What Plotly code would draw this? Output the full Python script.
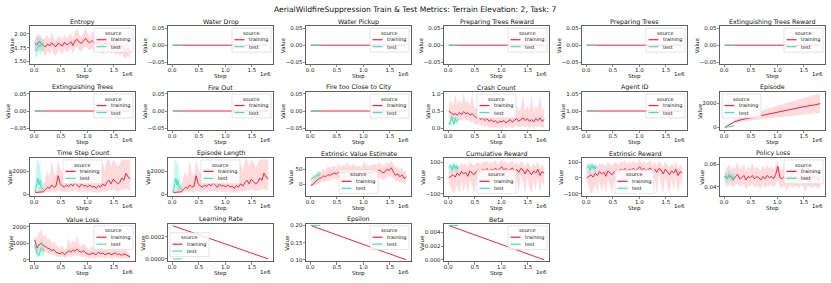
import plotly.graph_objects as go

PAGE_W, PAGE_H = 831, 283
W, H = PAGE_W, PAGE_H
FONT = "DejaVu Sans"
RED = "#ff1f3c"
TEAL = "#3fe3c3"
RED_BAND = "rgba(255,40,60,0.17)"
TEAL_BAND = "rgba(60,225,190,0.28)"

MAIN_TITLE = "AerialWildfireSuppression Train & Test Metrics: Terrain Elevation: 2, Task: 7"

# ---------------- data ----------------
TRAIN_STEP = [10000, 50000, 90000, 130000, 170000, 210000, 250000, 290000, 330000, 370000,
              410000, 450000, 490000, 530000, 570000, 610000, 650000, 690000, 730000, 770000,
              810000, 850000, 890000, 930000, 970000, 1010000, 1050000, 1090000, 1130000, 1170000,
              1210000, 1250000, 1290000, 1330000, 1370000, 1410000, 1450000, 1490000, 1530000, 1570000,
              1610000, 1650000, 1690000, 1730000, 1770000, 1810000]
TEST_STEP = [10000, 30000, 50000, 70000, 90000, 110000, 130000, 150000, 170000, 190000]
FLAT_TRAIN_STEP = [10000, 1810000]
FLAT_TEST_STEP = [10000, 190000]
EPISODE_STEP = [10000, 100000, 200000, 300000, 500000, 700000, 900000, 1100000, 1300000, 1500000, 1700000, 1810000]

ENTROPY_TRAIN = [1.83, 1.80, 1.86, 1.84, 1.80, 1.76, 1.82, 1.78, 1.84, 1.79,
                 1.77, 1.83, 1.81, 1.78, 1.85, 1.80, 1.82, 1.86, 1.79, 1.88,
                 1.90, 1.85, 1.83, 1.88, 1.92, 1.86, 1.84, 1.88, 1.84, 1.80,
                 1.86, 1.82, 1.78, 1.84, 1.80, 1.83, 1.78, 1.82, 1.76, 1.80,
                 1.74, 1.78, 1.72, 1.70, 1.74, 1.68]
ENTROPY_TRAIN_HI = [1.90, 1.95, 2.00, 1.92, 1.88, 1.95, 1.98, 1.90, 2.02, 1.92,
                    1.88, 1.96, 1.94, 1.90, 2.00, 1.92, 1.98, 2.02, 1.92, 2.04,
                    2.08, 1.98, 1.95, 2.02, 2.10, 2.00, 1.96, 2.04, 1.98, 1.94,
                    2.02, 1.96, 1.92, 2.00, 1.94, 1.97, 1.92, 1.98, 1.90, 1.95,
                    1.88, 1.94, 1.86, 1.84, 1.90, 1.82]
ENTROPY_TRAIN_LO = [1.74, 1.65, 1.72, 1.70, 1.66, 1.58, 1.70, 1.62, 1.72, 1.64,
                    1.60, 1.70, 1.68, 1.62, 1.72, 1.66, 1.70, 1.74, 1.64, 1.74,
                    1.76, 1.70, 1.68, 1.74, 1.78, 1.72, 1.70, 1.74, 1.70, 1.66,
                    1.72, 1.68, 1.62, 1.70, 1.66, 1.70, 1.64, 1.68, 1.62, 1.66,
                    1.60, 1.64, 1.58, 1.56, 1.60, 1.55]
ENTROPY_TEST = [1.72, 1.70, 1.74, 1.78, 1.80, 1.76, 1.82, 1.79, 1.78, 1.80]
ENTROPY_TEST_HI = [1.85, 1.95, 2.02, 1.98, 1.92, 2.00, 1.95, 1.90, 1.92, 1.90]
ENTROPY_TEST_LO = [1.62, 1.55, 1.58, 1.62, 1.68, 1.60, 1.66, 1.70, 1.68, 1.70]

WATER_DROP_TRAIN = [0.0, 0.0]
WATER_DROP_TEST = [0.0, 0.0]
WATER_PICKUP_TRAIN = [0.0, 0.0]
WATER_PICKUP_TEST = [0.0, 0.0]
PREP_TREES_REWARD_TRAIN = [0.0, 0.0]
PREP_TREES_REWARD_TEST = [0.0, 0.0]
PREP_TREES_TRAIN = [0.0, 0.0]
PREP_TREES_TEST = [0.0, 0.0]
EXT_TREES_REWARD_TRAIN = [0.0, 0.0]
EXT_TREES_REWARD_TEST = [0.0, 0.0]
EXT_TREES_TRAIN = [0.0, 0.0]
EXT_TREES_TEST = [0.0, 0.0]
FIRE_OUT_TRAIN = [0.0, 0.0]
FIRE_OUT_TEST = [0.0, 0.0]
FIRE_CITY_TRAIN = [0.0, 0.0]
FIRE_CITY_TEST = [0.0, 0.0]
AGENT_ID_TRAIN = [1.0, 1.0]
AGENT_ID_TEST = [1.0, 1.0]

CRASH_TRAIN = [0.50, 0.45, 0.40, 0.42, 0.38, 0.45, 0.40, 0.48, 0.42, 0.45,
               0.38, 0.42, 0.35, 0.30, 0.36, 0.25, 0.30, 0.22, 0.28, 0.20,
               0.25, 0.18, 0.22, 0.15, 0.20, 0.18, 0.22, 0.15, 0.20, 0.25,
               0.18, 0.22, 0.28, 0.20, 0.25, 0.30, 0.22, 0.28, 0.20, 0.25,
               0.18, 0.28, 0.22, 0.30, 0.20, 0.25]
CRASH_TRAIN_HI = [0.70, 0.80, 0.65, 1.00, 0.70, 0.85, 0.70, 1.00, 0.75, 0.80,
                  0.65, 1.00, 0.60, 0.55, 0.80, 0.50, 1.00, 0.45, 0.60, 0.40,
                  0.55, 1.00, 0.50, 0.40, 0.50, 0.45, 0.55, 0.40, 1.00, 0.60,
                  0.45, 0.55, 0.65, 0.50, 0.60, 1.00, 0.50, 0.65, 0.50, 1.00,
                  0.45, 0.65, 0.55, 1.00, 0.50, 0.60]
CRASH_TRAIN_LO = [0.30, 0.25, 0.20, 0.25, 0.18, 0.25, 0.20, 0.28, 0.22, 0.25,
                  0.15, 0.20, 0.12, 0.10, 0.15, 0.05, 0.10, 0.02, 0.08, 0.00,
                  0.05, 0.00, 0.04, 0.00, 0.02, 0.00, 0.05, 0.00, 0.02, 0.05,
                  0.00, 0.04, 0.08, 0.02, 0.05, 0.08, 0.02, 0.08, 0.00, 0.05,
                  0.00, 0.06, 0.02, 0.08, 0.00, 0.05]
CRASH_TEST = [0.15, 0.10, 0.25, 0.35, 0.20, 0.12, 0.30, 0.18, 0.22, 0.25]
CRASH_TEST_HI = [0.25, 0.20, 0.35, 0.45, 0.30, 0.22, 0.40, 0.28, 0.32, 0.35]
CRASH_TEST_LO = [0.05, 0.02, 0.12, 0.22, 0.10, 0.05, 0.18, 0.08, 0.12, 0.15]

EPISODE_TRAIN = [10, 250, 480, 620, 800, 1000, 1200, 1330, 1520, 1700, 1850, 1950]
EPISODE_TRAIN_HI = [20, 300, 600, 800, 1050, 1350, 1650, 1900, 2200, 2450, 2650, 2800]
EPISODE_TRAIN_LO = [0, 200, 380, 450, 580, 700, 800, 850, 950, 1050, 1150, 1200]
EPISODE_TEST = [0, 15, 30, 50, 70, 85, 100, 120, 135, 150]
EPISODE_TEST_HI = [5, 25, 45, 70, 95, 115, 135, 160, 180, 200]
EPISODE_TEST_LO = [0, 5, 15, 30, 45, 55, 65, 80, 90, 100]

TIME_STEP_TRAIN = [200, 150, 180, 220, 200, 400, 600, 500, 800, 600,
                   700, 1600, 900, 700, 600, 800, 650, 900, 700, 1000,
                   800, 600, 900, 700, 750, 650, 800, 600, 700, 500,
                   750, 600, 900, 700, 1000, 1200, 900, 1300, 1100, 900,
                   1000, 1400, 1200, 1800, 1500, 1300]
TIME_STEP_TRAIN_HI = [400, 350, 500, 900, 600, 1500, 2000, 1400, 3000, 1800,
                      1600, 3000, 2200, 1900, 1600, 3000, 1700, 2200, 1800, 2600,
                      2000, 1600, 3000, 1800, 1900, 1700, 2200, 1600, 2000, 1400,
                      2100, 1600, 2800, 2000, 3000, 3000, 2400, 3000, 2800, 2300,
                      2600, 3000, 3000, 3000, 3000, 3000]
TIME_STEP_TRAIN_LO = [100, 80, 90, 100, 100, 150, 200, 150, 250, 200,
                      200, 300, 250, 200, 150, 250, 200, 300, 200, 350,
                      250, 150, 300, 200, 250, 150, 250, 150, 200, 100,
                      200, 150, 300, 200, 300, 400, 300, 400, 350, 250,
                      300, 400, 350, 500, 400, 300]
TIME_STEP_TEST = [300, 500, 900, 1400, 800, 1200, 600, 500, 450, 400]
TIME_STEP_TEST_HI = [600, 1500, 3000, 3000, 2500, 3000, 1600, 1200, 900, 700]
TIME_STEP_TEST_LO = [150, 200, 300, 500, 300, 400, 250, 200, 200, 200]

EP_LEN_TRAIN = TIME_STEP_TRAIN
EP_LEN_TRAIN_HI = TIME_STEP_TRAIN_HI
EP_LEN_TRAIN_LO = TIME_STEP_TRAIN_LO
EP_LEN_TEST = TIME_STEP_TEST
EP_LEN_TEST_HI = TIME_STEP_TEST_HI
EP_LEN_TEST_LO = TIME_STEP_TEST_LO

VALUE_EST_TRAIN = [-3, 0, 8, 15, 20, 22, 28, 25, 32, 30,
                   35, 38, 34, 40, 37, 42, 38, 45, 40, 36,
                   42, 38, 35, 40, 33, 38, 42, 36, 40, 38,
                   45, 40, 48, 44, 38, 42, 50, 46, 55, 40,
                   30, 35, 25, 32, 20, 25]
VALUE_EST_TRAIN_HI = [5, 15, 25, 40, 45, 40, 50, 45, 60, 55,
                      58, 62, 55, 70, 60, 65, 58, 72, 62, 60,
                      68, 62, 58, 65, 55, 75, 68, 60, 65, 62,
                      70, 62, 72, 68, 60, 66, 74, 70, 78, 65,
                      55, 60, 48, 55, 42, 45]
VALUE_EST_TRAIN_LO = [-8, -6, -2, 0, 5, 8, 10, 8, 15, 12,
                      18, 20, 15, 22, 18, 22, 18, 25, 20, 12,
                      20, 15, 10, 18, -15, 10, 20, 14, 18, 15,
                      22, 18, 25, 20, 15, 18, 28, 22, 30, 18,
                      8, 12, 5, 10, 0, 5]
VALUE_EST_TEST = [15, 18, 22, 25, 24, 28, 30, 32, 30, 35]
VALUE_EST_TEST_HI = [22, 26, 30, 35, 32, 38, 40, 42, 40, 45]
VALUE_EST_TEST_LO = [8, 10, 15, 18, 16, 20, 22, 24, 22, 28]

CUM_REWARD_TRAIN = [0, 10, 20, 5, 30, 15, 40, 25, 35, 10,
                    45, 30, 20, 40, 50, 35, 55, 45, 60, 40,
                    55, 48, 62, 45, 55, 70, 50, 60, 45, 55,
                    62, 40, 55, 35, 60, 50, 25, 55, 40, 20,
                    45, 30, 55, 15, 40, 30]
CUM_REWARD_TRAIN_HI = [40, 60, 80, 60, 90, 70, 95, 80, 90, 70,
                       100, 85, 80, 95, 100, 85, 105, 95, 110, 90,
                       100, 95, 110, 90, 100, 115, 95, 105, 90, 100,
                       108, 85, 100, 80, 105, 95, 70, 100, 85, 65,
                       90, 75, 100, 60, 85, 70]
CUM_REWARD_TRAIN_LO = [-30, -60, -100, -80, -40, -100, -20, -90, -30, -100,
                       -10, -50, -100, -20, 0, -60, 10, -30, 20, -40,
                       10, -20, 25, -30, 15, 30, -50, 20, -40, 10,
                       20, -80, 0, -100, 20, -30, -100, 10, -60, -100,
                       -10, -80, 10, -100, -20, -60]
CUM_REWARD_TEST = [60, 75, 80, 50, 70, 85, 60, 75, 55, 70]
CUM_REWARD_TEST_HI = [85, 95, 95, 80, 90, 100, 85, 92, 80, 90]
CUM_REWARD_TEST_LO = [20, 45, 55, -60, 40, 60, 30, 50, 25, 45]

EXT_REWARD_TRAIN = CUM_REWARD_TRAIN
EXT_REWARD_TRAIN_HI = CUM_REWARD_TRAIN_HI
EXT_REWARD_TRAIN_LO = CUM_REWARD_TRAIN_LO
EXT_REWARD_TEST = CUM_REWARD_TEST
EXT_REWARD_TEST_HI = CUM_REWARD_TEST_HI
EXT_REWARD_TEST_LO = CUM_REWARD_TEST_LO

POLICY_LOSS_TRAIN = [0.049, 0.047, 0.050, 0.048, 0.046, 0.049, 0.051, 0.047, 0.048, 0.050,
                     0.046, 0.049, 0.048, 0.050, 0.047, 0.049, 0.048, 0.046, 0.049, 0.047,
                     0.050, 0.048, 0.049, 0.047, 0.051, 0.058, 0.048, 0.047, 0.049, 0.046,
                     0.048, 0.050, 0.047, 0.049, 0.048, 0.047, 0.049, 0.048, 0.046, 0.049,
                     0.048, 0.047, 0.049, 0.048, 0.046, 0.048]
POLICY_LOSS_TRAIN_HI = [0.054, 0.057, 0.060, 0.055, 0.058, 0.056, 0.062, 0.055, 0.057, 0.060,
                        0.054, 0.058, 0.056, 0.061, 0.055, 0.058, 0.056, 0.054, 0.059, 0.055,
                        0.060, 0.056, 0.058, 0.055, 0.059, 0.063, 0.056, 0.055, 0.058, 0.054,
                        0.056, 0.059, 0.055, 0.058, 0.056, 0.055, 0.058, 0.056, 0.054, 0.057,
                        0.056, 0.054, 0.057, 0.055, 0.053, 0.055]
POLICY_LOSS_TRAIN_LO = [0.044, 0.040, 0.042, 0.041, 0.039, 0.042, 0.043, 0.040, 0.041, 0.042,
                        0.038, 0.041, 0.040, 0.043, 0.039, 0.041, 0.040, 0.038, 0.042, 0.039,
                        0.041, 0.040, 0.042, 0.039, 0.042, 0.046, 0.040, 0.039, 0.041, 0.036,
                        0.040, 0.042, 0.039, 0.041, 0.040, 0.039, 0.041, 0.040, 0.035, 0.041,
                        0.040, 0.039, 0.041, 0.040, 0.038, 0.040]
POLICY_LOSS_TEST = [0.048, 0.050, 0.047, 0.049, 0.051, 0.048, 0.050, 0.047, 0.049, 0.048]
POLICY_LOSS_TEST_HI = [0.052, 0.054, 0.051, 0.053, 0.055, 0.052, 0.054, 0.051, 0.053, 0.052]
POLICY_LOSS_TEST_LO = [0.044, 0.046, 0.043, 0.045, 0.047, 0.044, 0.046, 0.043, 0.045, 0.044]

VALUE_LOSS_TRAIN = [1200, 700, 900, 1000, 850, 800, 700, 650, 550, 600,
                    450, 400, 350, 450, 300, 400, 550, 450, 600, 500,
                    650, 500, 450, 550, 400, 350, 300, 400, 350, 300,
                    450, 350, 400, 300, 350, 400, 300, 350, 400, 300,
                    350, 250, 350, 300, 200, 150]
VALUE_LOSS_TRAIN_HI = [1500, 1300, 1600, 1900, 1400, 1500, 1200, 1300, 1000, 1100,
                       900, 800, 700, 900, 600, 800, 1300, 900, 1200, 1000,
                       1500, 900, 800, 1000, 800, 700, 600, 800, 700, 600,
                       1000, 700, 800, 650, 700, 900, 600, 800, 900, 600,
                       700, 500, 700, 600, 400, 300]
VALUE_LOSS_TRAIN_LO = [900, 400, 500, 500, 400, 450, 400, 350, 300, 300,
                       200, 150, 150, 200, 100, 150, 200, 150, 250, 200,
                       250, 200, 150, 200, 150, 100, 100, 150, 100, 100,
                       150, 100, 150, 100, 100, 150, 100, 100, 150, 100,
                       100, 50, 100, 100, 50, 50]
VALUE_LOSS_TEST = [900, 600, 400, 300, 250, 500, 700, 650, 600, 550]
VALUE_LOSS_TEST_HI = [1400, 1000, 800, 600, 500, 1000, 1300, 1200, 1000, 900]
VALUE_LOSS_TEST_LO = [500, 300, 150, 100, 100, 200, 300, 300, 250, 250]

LEARNING_RATE_TRAIN = [0.0003, 0.0]
LEARNING_RATE_TEST = [0.0, 0.0]
EPSILON_TRAIN = [0.2, 0.1]
EPSILON_TEST = [0.2, 0.2]
BETA_TRAIN = [0.005, 0.0]
BETA_TEST = [0.005, 0.005]

ZERO_TICKS = [-0.05, 0.0, 0.05]
ZERO_TICKTEXT = ["\u22120.05", "0.00", "0.05"]

PANELS = [
    dict(title="Entropy", tr=(TRAIN_STEP, ENTROPY_TRAIN, ENTROPY_TRAIN_LO, ENTROPY_TRAIN_HI),
         te=(TEST_STEP, ENTROPY_TEST, ENTROPY_TEST_LO, ENTROPY_TEST_HI),
         yr=[1.45, 2.14], tv=[1.5, 1.75, 2.0], tt=["1.50", "1.75", "2.00"], loc="ur", voff=18),
    dict(title="Water Drop", tr=(FLAT_TRAIN_STEP, WATER_DROP_TRAIN, None, None),
         te=(FLAT_TEST_STEP, WATER_DROP_TEST, None, None),
         yr=[-0.055, 0.055], tv=ZERO_TICKS, tt=ZERO_TICKTEXT, loc="ur", voff=23),
    dict(title="Water Pickup", tr=(FLAT_TRAIN_STEP, WATER_PICKUP_TRAIN, None, None),
         te=(FLAT_TEST_STEP, WATER_PICKUP_TEST, None, None),
         yr=[-0.055, 0.055], tv=ZERO_TICKS, tt=ZERO_TICKTEXT, loc="ur", voff=23),
    dict(title="Preparing Trees Reward", tr=(FLAT_TRAIN_STEP, PREP_TREES_REWARD_TRAIN, None, None),
         te=(FLAT_TEST_STEP, PREP_TREES_REWARD_TEST, None, None),
         yr=[-0.055, 0.055], tv=ZERO_TICKS, tt=ZERO_TICKTEXT, loc="ur", voff=23),
    dict(title="Preparing Trees", tr=(FLAT_TRAIN_STEP, PREP_TREES_TRAIN, None, None),
         te=(FLAT_TEST_STEP, PREP_TREES_TEST, None, None),
         yr=[-0.055, 0.055], tv=ZERO_TICKS, tt=ZERO_TICKTEXT, loc="ur", voff=23),
    dict(title="Extinguishing Trees Reward", tr=(FLAT_TRAIN_STEP, EXT_TREES_REWARD_TRAIN, None, None),
         te=(FLAT_TEST_STEP, EXT_TREES_REWARD_TEST, None, None),
         yr=[-0.055, 0.055], tv=ZERO_TICKS, tt=ZERO_TICKTEXT, loc="ur", voff=23),
    dict(title="Extinguishing Trees", tr=(FLAT_TRAIN_STEP, EXT_TREES_TRAIN, None, None),
         te=(FLAT_TEST_STEP, EXT_TREES_TEST, None, None),
         yr=[-0.055, 0.055], tv=ZERO_TICKS, tt=ZERO_TICKTEXT, loc="ur", voff=22),
    dict(title="Fire Out", tr=(FLAT_TRAIN_STEP, FIRE_OUT_TRAIN, None, None),
         te=(FLAT_TEST_STEP, FIRE_OUT_TEST, None, None),
         yr=[-0.055, 0.055], tv=ZERO_TICKS, tt=ZERO_TICKTEXT, loc="ur", voff=23),
    dict(title="Fire too Close to City", tr=(FLAT_TRAIN_STEP, FIRE_CITY_TRAIN, None, None),
         te=(FLAT_TEST_STEP, FIRE_CITY_TEST, None, None),
         yr=[-0.055, 0.055], tv=ZERO_TICKS, tt=ZERO_TICKTEXT, loc="ur", voff=23),
    dict(title="Crash Count", tr=(TRAIN_STEP, CRASH_TRAIN, CRASH_TRAIN_LO, CRASH_TRAIN_HI),
         te=(TEST_STEP, CRASH_TEST, CRASH_TEST_LO, CRASH_TEST_HI),
         yr=[-0.05, 1.05], tv=[0, 0.5, 1.0], tt=["0.0", "0.5", "1.0"], loc="uc", voff=16),
    dict(title="Agent ID", tr=(FLAT_TRAIN_STEP, AGENT_ID_TRAIN, None, None),
         te=(FLAT_TEST_STEP, AGENT_ID_TEST, None, None),
         yr=[0.945, 1.055], tv=[0.95, 1.0, 1.05], tt=["0.95", "1.00", "1.05"], loc="ur", voff=19),
    dict(title="Episode", tr=(EPISODE_STEP, EPISODE_TRAIN, EPISODE_TRAIN_LO, EPISODE_TRAIN_HI),
         te=(TEST_STEP, EPISODE_TEST, EPISODE_TEST_LO, EPISODE_TEST_HI),
         yr=[-190, 2890], tv=[0, 2000], tt=["0", "2000"], loc="ul", voff=20),
    dict(title="Time Step Count", tr=(TRAIN_STEP, TIME_STEP_TRAIN, TIME_STEP_TRAIN_LO, TIME_STEP_TRAIN_HI),
         te=(TEST_STEP, TIME_STEP_TEST, TIME_STEP_TEST_LO, TIME_STEP_TEST_HI),
         yr=[-130, 3130], tv=[0, 2000], tt=["0", "2000"], loc="uc", voff=20),
    dict(title="Episode Length", tr=(TRAIN_STEP, EP_LEN_TRAIN, EP_LEN_TRAIN_LO, EP_LEN_TRAIN_HI),
         te=(TEST_STEP, EP_LEN_TEST, EP_LEN_TEST_LO, EP_LEN_TEST_HI),
         yr=[-130, 3130], tv=[0, 2000], tt=["0", "2000"], loc="uc", voff=20),
    dict(title="Extrinsic Value Estimate", tr=(TRAIN_STEP, VALUE_EST_TRAIN, VALUE_EST_TRAIN_LO, VALUE_EST_TRAIN_HI),
         te=(TEST_STEP, VALUE_EST_TEST, VALUE_EST_TEST_LO, VALUE_EST_TEST_HI),
         yr=[-37, 87], tv=[0, 50], tt=["0", "50"], loc="lc", voff=15),
    dict(title="Cumulative Reward", tr=(TRAIN_STEP, CUM_REWARD_TRAIN, CUM_REWARD_TRAIN_LO, CUM_REWARD_TRAIN_HI),
         te=(TEST_STEP, CUM_REWARD_TEST, CUM_REWARD_TEST_LO, CUM_REWARD_TEST_HI),
         yr=[-113, 126], tv=[-100, 0, 100], tt=["\u2212100", "0", "100"], loc="lc", voff=21),
    dict(title="Extrinsic Reward", tr=(TRAIN_STEP, EXT_REWARD_TRAIN, EXT_REWARD_TRAIN_LO, EXT_REWARD_TRAIN_HI),
         te=(TEST_STEP, EXT_REWARD_TEST, EXT_REWARD_TEST_LO, EXT_REWARD_TEST_HI),
         yr=[-113, 126], tv=[-100, 0, 100], tt=["\u2212100", "0", "100"], loc="lc", voff=21),
    dict(title="Policy Loss", tr=(TRAIN_STEP, POLICY_LOSS_TRAIN, POLICY_LOSS_TRAIN_LO, POLICY_LOSS_TRAIN_HI),
         te=(TEST_STEP, POLICY_LOSS_TEST, POLICY_LOSS_TEST_LO, POLICY_LOSS_TEST_HI),
         yr=[0.032, 0.0655], tv=[0.04, 0.06], tt=["0.04", "0.06"], loc="ur", voff=18),
    dict(title="Value Loss", tr=(TRAIN_STEP, VALUE_LOSS_TRAIN, VALUE_LOSS_TRAIN_LO, VALUE_LOSS_TRAIN_HI),
         te=(TEST_STEP, VALUE_LOSS_TEST, VALUE_LOSS_TEST_LO, VALUE_LOSS_TEST_HI),
         yr=[-120, 2180], tv=[0, 1000, 2000], tt=["0", "1000", "2000"], loc="ur", voff=19),
    dict(title="Learning Rate", tr=(FLAT_TRAIN_STEP, LEARNING_RATE_TRAIN, None, None),
         te=(FLAT_TEST_STEP, LEARNING_RATE_TEST, None, None),
         yr=[-0.000024, 0.000317], tv=[0, 0.0002], tt=["0.0000", "0.0002"], loc="ll", voff=25),
    dict(title="Epsilon", tr=(FLAT_TRAIN_STEP, EPSILON_TRAIN, None, None),
         te=(FLAT_TEST_STEP, EPSILON_TEST, None, None),
         yr=[0.095, 0.205], tv=[0.10, 0.15, 0.20], tt=["0.10", "0.15", "0.20"], loc="ur", voff=19),
    dict(title="Beta", tr=(FLAT_TRAIN_STEP, BETA_TRAIN, None, None),
         te=(FLAT_TEST_STEP, BETA_TEST, None, None),
         yr=[-0.00025, 0.00525], tv=[0, 0.002, 0.004], tt=["0.000", "0.002", "0.004"], loc="ur", voff=22),
]

# ---------------- layout helpers (positions in page pixels) ----------------
COL_LEFT0, COL_PITCH, AX_W = 30.0, 138.0, 105.0
ROW_TOP0, ROW_PITCH, AX_H = 25.5, 66.3, 38.0
AXIS_COLOR = "#3a3a3a"


def px(x):
    return x / W


def py(y):
    return 1 - y / H


fig = go.Figure()
shapes = []
annotations = []


def band(steps, lo, hi):
    return list(steps) + list(steps)[::-1], list(hi) + list(lo)[::-1]


for k, p in enumerate(PANELS):
    r, c = divmod(k, 6)
    L = COL_LEFT0 + COL_PITCH * c
    R = L + AX_W
    T = ROW_TOP0 + ROW_PITCH * r
    B = T + AX_H
    sx = "" if k == 0 else str(k + 1)
    xref, yref = "x" + sx, "y" + sx

    for series, line_col, band_col in ((p["tr"], RED, RED_BAND), (p["te"], TEAL, TEAL_BAND)):
        steps, mean, lo, hi = series
        if lo is not None:
            bx, by = band(steps, lo, hi)
            fig.add_trace(go.Scatter(x=bx, y=by, fill="toself", fillcolor=band_col,
                                     line=dict(width=0), mode="lines", hoverinfo="skip",
                                     showlegend=False, xaxis=xref, yaxis=yref))
        fig.add_trace(go.Scatter(x=steps, y=mean, mode="lines", line=dict(color=line_col, width=1),
                                 hoverinfo="skip", showlegend=False, xaxis=xref, yaxis=yref))

    common = dict(showline=True, mirror=True, linecolor=AXIS_COLOR, linewidth=0.8,
                  ticks="outside", ticklen=2.5, tickwidth=0.6, tickcolor=AXIS_COLOR,
                  showgrid=False, zeroline=False,
                  tickfont=dict(family=FONT, size=5.5, color="#222"))
    fig.update_layout(**{
        "xaxis" + sx: dict(domain=[px(L), px(R)], anchor=yref, range=[-80000, 1900000],
                           tickmode="array", tickvals=[0, 500000, 1000000, 1500000],
                           ticktext=["0.0", "0.5", "1.0", "1.5"], ticklabelstandoff=-2, **common),
        "yaxis" + sx: dict(domain=[py(B), py(T)], anchor=xref, range=p["yr"],
                           tickmode="array", tickvals=p["tv"], ticktext=p["tt"],
                           ticklabelstandoff=-1, **common),
    })

    # subplot title
    annotations.append(dict(text=p["title"], x=px((L + R) / 2), y=py(T - 4.8), xref="paper", yref="paper",
                            showarrow=False, xanchor="center", yanchor="middle",
                            font=dict(family=FONT, size=6.3, color="#111")))
    # axis labels
    annotations.append(dict(text="Step", x=px((L + R) / 2), y=py(B + 12.5), xref="paper", yref="paper",
                            showarrow=False, xanchor="center", yanchor="middle",
                            font=dict(family=FONT, size=5.5, color="#111")))
    annotations.append(dict(text="1e6", x=px(R), y=py(B + 10.5), xref="paper", yref="paper",
                            showarrow=False, xanchor="right", yanchor="middle",
                            font=dict(family=FONT, size=5.5, color="#111")))
    annotations.append(dict(text="Value", x=px(L - p["voff"]), y=py((T + B) / 2), xref="paper", yref="paper",
                            showarrow=False, xanchor="center", yanchor="middle", textangle=-90,
                            font=dict(family=FONT, size=5.5, color="#111")))

    # legend box (drawn manually, matplotlib style)
    LW, LH = 39.0, 24.0
    loc = p["loc"]
    if loc == "ur":
        lx, ty = R - LW - 2, T + 2
    elif loc == "ul":
        lx, ty = L + 2, T + 2
    elif loc == "uc":
        lx, ty = (L + R) / 2 - LW / 2, T + 2
    elif loc == "lc":
        lx, ty = (L + R) / 2 - LW / 2, B - 2 - LH
    else:
        lx, ty = L + 2, B - 5 - LH
    shapes.append(dict(type="rect", xref="paper", yref="paper", x0=px(lx), x1=px(lx + LW),
                       y0=py(ty + LH), y1=py(ty), fillcolor="rgba(255,255,255,0.8)",
                       line=dict(color="#d3d3d3", width=0.6), layer="above"))
    annotations.append(dict(text="source", x=px(lx + LW / 2), y=py(ty + 4.6), xref="paper", yref="paper",
                            showarrow=False, xanchor="center", yanchor="middle",
                            font=dict(family=FONT, size=5, color="#111")))
    for row_y, col, label in ((ty + 11.5, RED, "training"), (ty + 18.5, TEAL, "test")):
        shapes.append(dict(type="line", xref="paper", yref="paper", x0=px(lx + 2.5), x1=px(lx + 12.5),
                           y0=py(row_y), y1=py(row_y), line=dict(color=col, width=1.2), layer="above"))
        annotations.append(dict(text=label, x=px(lx + 15), y=py(row_y), xref="paper", yref="paper",
                                showarrow=False, xanchor="left", yanchor="middle",
                                font=dict(family=FONT, size=5, color="#111")))

annotations.append(dict(text=MAIN_TITLE, x=px(PAGE_W / 2), y=py(9), xref="paper", yref="paper", showarrow=False,
                        xanchor="center", yanchor="middle", font=dict(family=FONT, size=7.6, color="#111")))

fig.update_layout(width=W, height=H, autosize=False, margin=dict(l=0, r=0, t=0, b=0),
                  paper_bgcolor="white", plot_bgcolor="white", showlegend=False,
                  shapes=shapes, annotations=annotations)

# remove the browser's default 8px body margin so the 831x283 figure fills the window
fig.write_html("out.html", config={"displayModeBar": False, "staticPlot": True},
               post_script="document.body.style.margin='0';document.body.style.overflow='hidden';")
